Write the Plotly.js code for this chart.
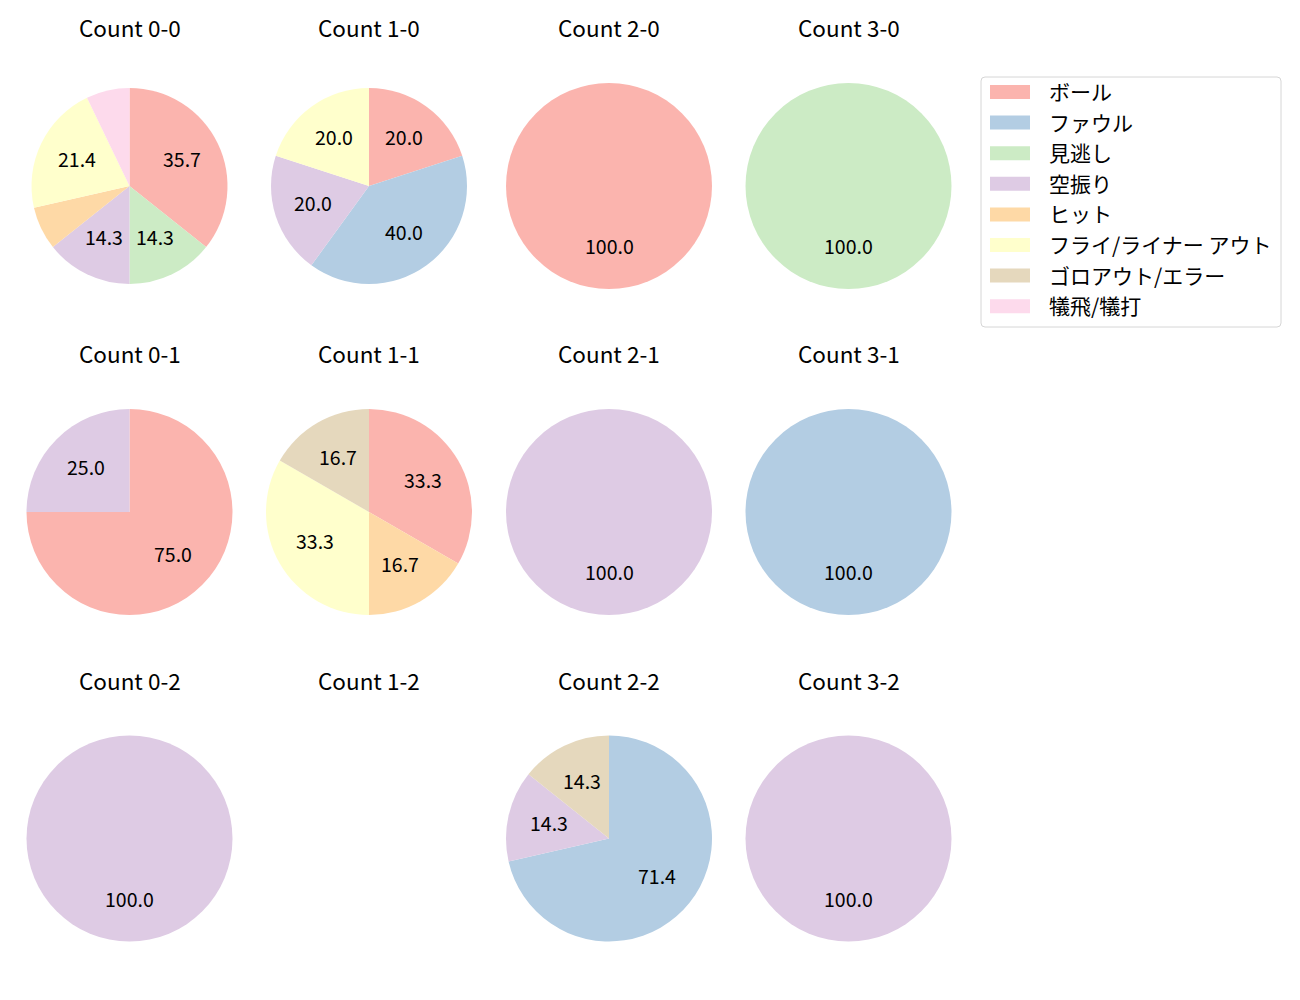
<!DOCTYPE html>
<html>
<head>
<meta charset="utf-8">
<script src="https://cdn.plot.ly/plotly-3.0.1.min.js"></script>
<style>html,body{margin:0;padding:0;background:#fff;}#chart{width:1300px;height:1000px;}</style>
</head>
<body>
<div id="chart"></div>
<script>
// ---- data ----
const categories = ['ボール','ファウル','見逃し','空振り','ヒット','フライ/ライナー アウト','ゴロアウト/エラー','犠飛/犠打'];
const colors = ['#fbb4ae','#b3cde3','#ccebc5','#decbe4','#fed9a6','#ffffcc','#e5d8bd','#fddaec'];
const panelTitles = ['Count 0-0','Count 1-0','Count 2-0','Count 3-0',
                     'Count 0-1','Count 1-1','Count 2-1','Count 3-1',
                     'Count 0-2','Count 1-2','Count 2-2','Count 3-2'];
const count00 = [5,0,2,2,1,3,0,1];
const count10 = [1,2,0,1,0,1,0,0];
const count20 = [1,0,0,0,0,0,0,0];
const count30 = [0,0,1,0,0,0,0,0];
const count01 = [3,0,0,1,0,0,0,0];
const count11 = [2,0,0,0,1,2,1,0];
const count21 = [0,0,0,1,0,0,0,0];
const count31 = [0,1,0,0,0,0,0,0];
const count02 = [0,0,0,1,0,0,0,0];
const count12 = [0,0,0,0,0,0,0,0];
const count22 = [0,5,0,1,0,0,1,0];
const count32 = [0,0,0,1,0,0,0,0];
const panelValues = [count00,count10,count20,count30,count01,count11,count21,count31,count02,count12,count22,count32];

// ---- layout geometry (pixels) ----
const W = 1300, H = 1000;
const colX = [129.5, 369, 609, 848.5];
const rowY = [186, 512, 838.5];
const radii = [98,98,103,103, 103,103,103,103, 103,103,103,103];
const FONT = '"Noto Sans CJK JP", "Noto Sans", sans-serif';

const px = x => x / W;
const py = y => 1 - y / H;

const traces = [];
const annotations = [];
const shapes = [];

panelValues.forEach((vals, i) => {
  const cx = colX[i % 4], cy = rowY[Math.floor(i / 4)], r = radii[i];
  annotations.push({
    xref:'paper', yref:'paper', x: px(cx), y: py(cy - 159),
    text: panelTitles[i], showarrow:false, xanchor:'center', yanchor:'middle',
    font:{family:FONT, size:22.5, color:'#000'}
  });
  const total = vals.reduce((a,b)=>a+b,0);
  if (total === 0) return;
  traces.push({
    type:'pie', labels: categories, values: vals, sort:false,
    direction:'clockwise', rotation:0,
    marker:{colors: colors, line:{width:0}},
    textinfo:'none', hoverinfo:'label+percent', showlegend:false,
    domain:{x:[px(cx - r), px(cx + r)], y:[py(cy + r), py(cy - r)]}
  });
  // percentage labels at 0.6 radius, as in the reference
  let cum = 0;
  vals.forEach(v => {
    if (v <= 0) return;
    const frac = v / total;
    const mid = Math.PI/2 - 2*Math.PI*(cum + frac/2);
    cum += frac;
    const pct = frac * 100;
    if (pct < 10) return;
    annotations.push({
      xref:'paper', yref:'paper',
      x: px(cx + 0.6*r*Math.cos(mid)), y: py(cy - 0.6*r*Math.sin(mid) - 2),
      text: pct.toFixed(1), showarrow:false, xanchor:'center', yanchor:'middle',
      font:{family:FONT, size:19.5, color:'#000'}
    });
  });
});

// ---- legend (custom, matplotlib style) ----
const lgX0 = 981, lgY0 = 77, lgX1 = 1281, lgY1 = 327, rr = 4;
shapes.push({
  type:'path', xref:'paper', yref:'paper',
  path: `M ${px(lgX0+rr)} ${py(lgY0)} L ${px(lgX1-rr)} ${py(lgY0)} Q ${px(lgX1)} ${py(lgY0)} ${px(lgX1)} ${py(lgY0+rr)} L ${px(lgX1)} ${py(lgY1-rr)} Q ${px(lgX1)} ${py(lgY1)} ${px(lgX1-rr)} ${py(lgY1)} L ${px(lgX0+rr)} ${py(lgY1)} Q ${px(lgX0)} ${py(lgY1)} ${px(lgX0)} ${py(lgY1-rr)} L ${px(lgX0)} ${py(lgY0+rr)} Q ${px(lgX0)} ${py(lgY0)} ${px(lgX0+rr)} ${py(lgY0)} Z`,
  fillcolor:'rgba(255,255,255,0.8)', line:{color:'#d6d6d6', width:1}
});
categories.forEach((c, k) => {
  const yc = 92 + k * 30.6;
  shapes.push({type:'rect', xref:'paper', yref:'paper',
    x0:px(990), x1:px(1030), y0:py(yc+7), y1:py(yc-7),
    fillcolor: colors[k], line:{width:0}});
  annotations.push({xref:'paper', yref:'paper', x:px(1047), y:py(yc - 1),
    text:c, showarrow:false, xanchor:'left', yanchor:'middle',
    font:{family:FONT, size:21, color:'#000'}});
});

Plotly.newPlot('chart', traces, {
  width:W, height:H, margin:{l:0,r:0,t:0,b:0},
  paper_bgcolor:'#fff', plot_bgcolor:'#fff',
  showlegend:false, annotations, shapes
}, {displayModeBar:false, staticPlot:true});
</script>
</body>
</html>
